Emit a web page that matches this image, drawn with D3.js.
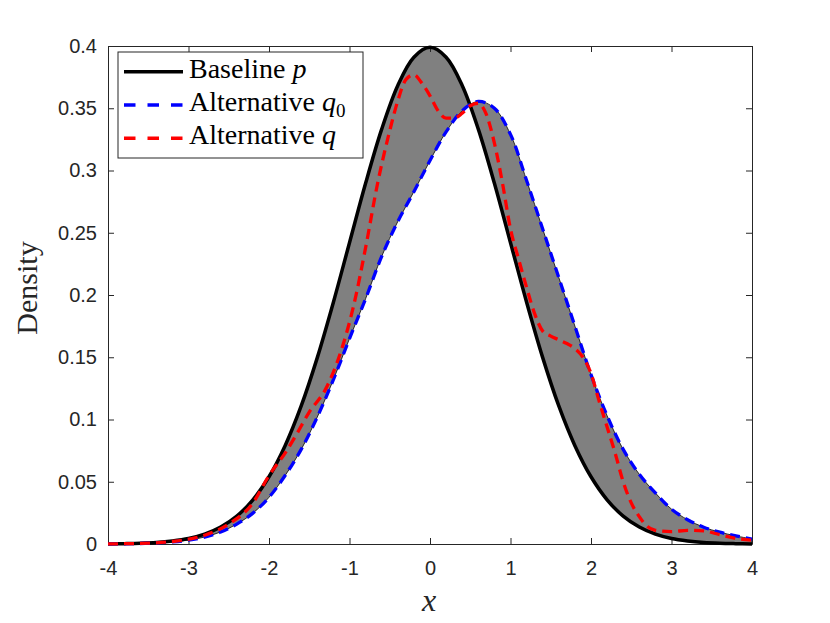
<!DOCTYPE html>
<html>
<head>
<meta charset="utf-8">
<script src="https://cdn.jsdelivr.net/npm/d3@7"></script>
<style>
  body { margin: 0; background: #fff; }
  svg { display: block; }
  .tick text { font-family: "Liberation Sans", Arial, sans-serif; font-size: 20px; fill: #262626; }
</style>
</head>
<body>
<div id="chart"></div>
<script>
// grid for baseline p and alternative q0
var xs = [-4.0, -3.8, -3.6, -3.4, -3.2, -3.0, -2.8, -2.6, -2.4, -2.2, -2.0, -1.8, -1.6, -1.4, -1.2, -1.0,
          -0.8, -0.6, -0.4, -0.2, 0.0, 0.2, 0.4, 0.6, 0.8, 1.0, 1.2, 1.4, 1.6, 1.8, 2.0, 2.2, 2.4, 2.6,
          2.8, 3.0, 3.2, 3.4, 3.6, 3.8, 4.0];

var pVals = [0.0001, 0.0003, 0.0006, 0.0012, 0.0024, 0.0044, 0.0079, 0.0136, 0.0224, 0.0355, 0.0540,
             0.0790, 0.1109, 0.1497, 0.1942, 0.2420, 0.2897, 0.3332, 0.3683, 0.3910, 0.3989, 0.3910,
             0.3683, 0.3332, 0.2897, 0.2420, 0.1942, 0.1497, 0.1109, 0.0790, 0.0540, 0.0355, 0.0224,
             0.0136, 0.0079, 0.0044, 0.0024, 0.0012, 0.0006, 0.0003, 0.0001];

var q0Vals = [0.0001, 0.0002, 0.0004, 0.0009, 0.0017, 0.0031, 0.0056, 0.0097, 0.0160, 0.0248, 0.0375,
              0.0550, 0.0760, 0.1020, 0.1320, 0.1650, 0.1970, 0.2310, 0.2590, 0.2830, 0.3080, 0.3310,
              0.3480, 0.3555, 0.3500, 0.3290, 0.2920, 0.2530, 0.2140, 0.1750, 0.1360, 0.1030, 0.0760,
              0.0560, 0.0410, 0.0280, 0.0195, 0.0135, 0.0095, 0.0065, 0.0040];

// alternative q, read on its own grid
var qX = [-4.0, -3.6, -3.2, -2.8, -2.5, -2.2, -2.0, -1.8, -1.65, -1.5, -1.3, -1.1, -0.95, -0.8, -0.65,
          -0.5, -0.4, -0.3, -0.2, -0.1, 0.0, 0.1, 0.2, 0.3, 0.4, 0.5, 0.6, 0.7, 0.8, 0.9, 1.0, 1.1, 1.2,
          1.3, 1.4, 1.5, 1.6, 1.7, 1.8, 1.9, 2.0, 2.1, 2.2, 2.3, 2.4, 2.5, 2.6, 2.7, 2.8, 3.0, 3.2, 3.4,
          3.6, 3.8, 4.0];

var qVals = [0.0001, 0.0005, 0.0020, 0.0070, 0.0160, 0.0330, 0.0550, 0.0730, 0.0890, 0.1060, 0.1240,
             0.1560, 0.1910, 0.2380, 0.2900, 0.3320, 0.3560, 0.3730, 0.3770, 0.3700, 0.3600, 0.3480,
             0.3420, 0.3420, 0.3460, 0.3520, 0.3540, 0.3450, 0.3220, 0.2900, 0.2530, 0.2290, 0.2060,
             0.1850, 0.1710, 0.1670, 0.1640, 0.1610, 0.1570, 0.1500, 0.1370, 0.1150, 0.0940, 0.0730,
             0.0500, 0.0330, 0.0220, 0.0140, 0.0110, 0.0099, 0.0110, 0.0105, 0.0075, 0.0045, 0.0030];

var xTicks = [-4, -3, -2, -1, 0, 1, 2, 3, 4];
var yTicks = [0, 0.05, 0.1, 0.15, 0.2, 0.25, 0.3, 0.35, 0.4];
var yTickLabels = ["0", "0.05", "0.1", "0.15", "0.2", "0.25", "0.3", "0.35", "0.4"];

var W = 830, H = 623;
var plotLeft = 108, plotRight = 752, plotTop = 46, plotBottom = 544;
var axisColor = "#262626";

var svg = d3.select("#chart").append("svg")
    .attr("width", W)
    .attr("height", H);

var x = d3.scaleLinear().domain([-4, 4]).range([plotLeft, plotRight]);
var y = d3.scaleLinear().domain([0, 0.4]).range([plotBottom, plotTop]);

var band = xs.map(function(v, i) { return { x: v, p: pVals[i], q0: q0Vals[i] }; });
var qData = qX.map(function(v, i) { return { x: v, q: qVals[i] }; });

var smooth = d3.curveCatmullRom.alpha(0.5);

// shaded gap between p and q0
svg.append("path")
    .datum(band)
    .attr("d", d3.area()
        .x(function(d) { return x(d.x); })
        .y0(function(d) { return y(d.q0); })
        .y1(function(d) { return y(d.p); })
        .curve(smooth))
    .style("fill", "#808080")
    .style("stroke", "#000")
    .style("stroke-width", 0.8);

// axes (box with inward ticks)
var xAxis = d3.axisBottom(x).tickValues(xTicks).tickSizeInner(-6).tickSizeOuter(0).tickPadding(17);
var yAxis = d3.axisLeft(y).tickValues(yTicks).tickSizeInner(-6).tickSizeOuter(0).tickPadding(11)
    .tickFormat(function(d, i) { return yTickLabels[i]; });

var gx = svg.append("g").attr("transform", "translate(0," + plotBottom + ")").call(xAxis);
var gy = svg.append("g").attr("transform", "translate(" + plotLeft + ",0)").call(yAxis);
var gt = svg.append("g").attr("transform", "translate(0," + plotTop + ")")
    .call(d3.axisTop(x).tickValues(xTicks).tickSizeInner(-6).tickSizeOuter(0).tickFormat(""));
var gr = svg.append("g").attr("transform", "translate(" + plotRight + ",0)")
    .call(d3.axisRight(y).tickValues(yTicks).tickSizeInner(-6).tickSizeOuter(0).tickFormat(""));

[gx, gy, gt, gr].forEach(function(g) {
    g.selectAll("path, line").style("stroke", axisColor).style("stroke-width", 1);
});
gx.selectAll("text").text(function(d) { return d < 0 ? "-" + Math.abs(d) : d; });

// curves
var lineP = d3.line().x(function(d) { return x(d.x); }).y(function(d) { return y(d.p); })
    .curve(smooth);
var lineQ0 = d3.line().x(function(d) { return x(d.x); }).y(function(d) { return y(d.q0); })
    .curve(smooth);
var lineQ = d3.line().x(function(d) { return x(d.x); }).y(function(d) { return y(d.q); })
    .curve(d3.curveMonotoneX);

svg.append("path").datum(band).attr("d", lineP)
    .style("fill", "none").style("stroke", "#000").style("stroke-width", 3.5);
svg.append("path").datum(band).attr("d", lineQ0)
    .style("fill", "none").style("stroke", "#0000ff").style("stroke-width", 3.3)
    .style("stroke-dasharray", "10,6");
svg.append("path").datum(qData).attr("d", lineQ)
    .style("fill", "none").style("stroke", "#ff0000").style("stroke-width", 3.3)
    .style("stroke-dasharray", "10,6");

// axis labels
svg.append("text")
    .attr("transform", "translate(37,288) rotate(-90)")
    .attr("text-anchor", "middle")
    .style("font-family", "'Liberation Serif', serif")
    .style("font-size", "30px")
    .style("fill", axisColor)
    .text("Density");

svg.append("text")
    .attr("x", 429).attr("y", 611)
    .attr("text-anchor", "middle")
    .style("font-family", "'Liberation Serif', serif")
    .style("font-style", "italic")
    .style("font-size", "32px")
    .style("fill", axisColor)
    .text("x");

// legend
var legend = svg.append("g");
legend.append("rect")
    .attr("x", 118).attr("y", 52).attr("width", 245).attr("height", 106)
    .style("fill", "#fff").style("stroke", axisColor).style("stroke-width", 1);

var items = [
    { name: "Baseline ", sym: "p", sub: "", color: "#000", dash: null },
    { name: "Alternative ", sym: "q", sub: "0", color: "#0000ff", dash: "11.5,12" },
    { name: "Alternative ", sym: "q", sub: "", color: "#ff0000", dash: "11.5,12" }
];

items.forEach(function(it, i) {
    var cy = 71.7 + i * 33.3;
    legend.append("line")
        .attr("x1", 124).attr("x2", 183).attr("y1", cy).attr("y2", cy)
        .style("stroke", it.color).style("stroke-width", 3.5)
        .style("stroke-dasharray", it.dash);
    var t = legend.append("text")
        .attr("x", 189).attr("y", cy + 6)
        .style("font-family", "'Liberation Serif', serif")
        .style("font-size", "28px")
        .style("fill", "#000");
    t.append("tspan").text(it.name);
    t.append("tspan").style("font-style", "italic").text(it.sym);
    if (it.sub) {
        t.append("tspan").attr("dy", 6).style("font-size", "19px").text(it.sub);
    }
});
</script>
</body>
</html>
